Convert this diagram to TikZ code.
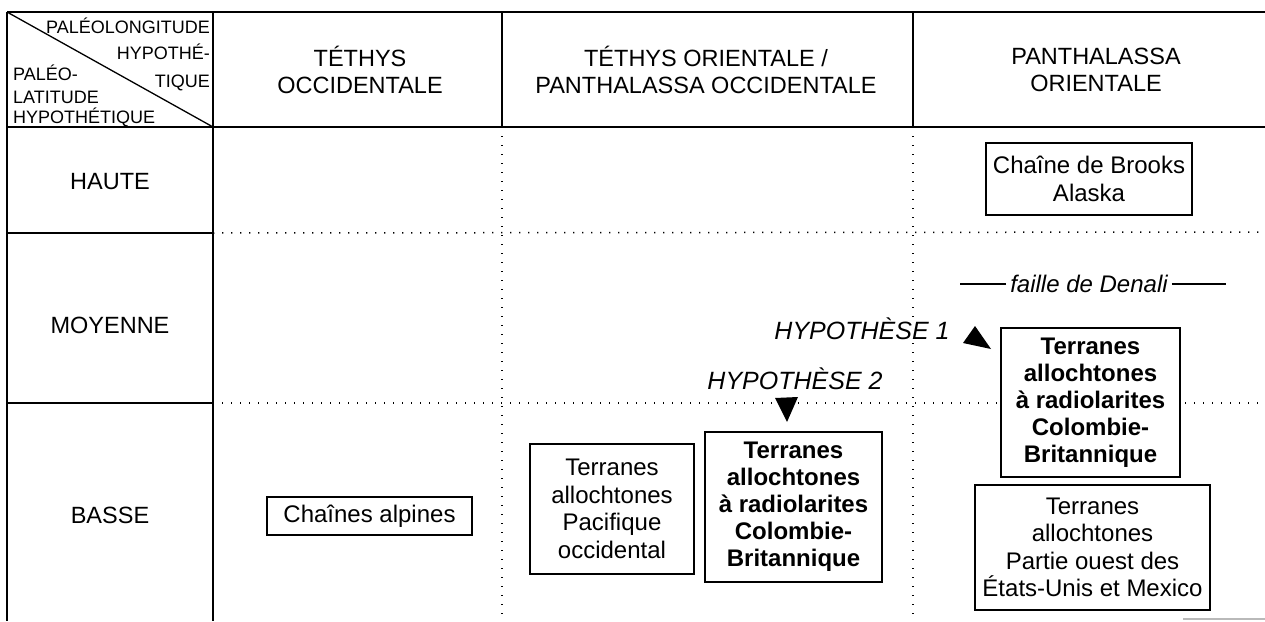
\documentclass[tikz,border=0pt]{standalone}
\usepackage{fontspec}
\setmainfont{Liberation Sans}
\begin{document}
\begin{tikzpicture}[x=1pt,y=-1pt,
  tbl/.style={line width=1.6pt},
  dotline/.style={line width=1.5pt, dash pattern=on 1.4pt off 7.6pt},
  box/.style={draw, line width=1.5pt, fill=white, align=center, inner sep=0pt, font=\fontsize{24}{27.5}\selectfont},
  boldbox/.style={box, line width=2.6pt, font=\fontsize{24}{27}\selectfont\bfseries},
  hdr/.style={align=center, inner sep=0pt, font=\fontsize{23.5}{27}\selectfont},
  rowlab/.style={inner sep=0pt, font=\fontsize{23.5}{26}\selectfont},
  corner/.style={inner sep=0pt, font=\fontsize{18}{23}\selectfont},
  hyp/.style={inner sep=1pt, fill=white, font=\fontsize{25}{28}\selectfont\itshape},
  tip/.style={fill=black}
]
\useasboundingbox (0,0) rectangle (1265,621);
% table corners
\coordinate (tl) at (7,12);
\coordinate (tr) at (1265,12);
\coordinate (hl) at (7,127);
\coordinate (hr) at (1265,127);
\coordinate (bl) at (7,621);
\coordinate (c1t) at (213,12);
\coordinate (c1h) at (213,127);
\coordinate (c1b) at (213,621);
\coordinate (c2t) at (502,12);
\coordinate (c2h) at (502,127);
\coordinate (c2b) at (502,621);
\coordinate (c3t) at (913,12);
\coordinate (c3h) at (913,127);
\coordinate (c3b) at (913,621);
\coordinate (r1l) at (7,233);
\coordinate (r1m) at (213,233);
\coordinate (r1r) at (1265,232);
\coordinate (r2l) at (7,403);
\coordinate (r2m) at (213,403);
\coordinate (r2r) at (1265,403);
\coordinate (g1) at (1183,619);
\coordinate (g2) at (1265,619);
% dotted grid
\draw[dotline] (c2h) -- (c2b);
\draw[dotline] (c3h) -- (c3b);
\draw[dotline] (r1m) -- (r1r);
\draw[dotline] (r2m) -- (r2r);
% solid grid
\draw[tbl] (tl) -- (tr);
\draw[tbl] (hl) -- (hr);
\draw[tbl] (tl) -- (bl);
\draw[tbl] (c1t) -- (c1b);
\draw[tbl] (c2t) -- (c2h);
\draw[tbl] (c3t) -- (c3h);
\draw[tbl] (r1l) -- (r1m);
\draw[tbl] (r2l) -- (r2m);
\draw[line width=1.3pt] (tl) -- (c1h);
\draw[gray!55, line width=1.2pt] (g1) -- (g2);
% corner cell
\node[corner, anchor=base east] (plong) at (210,33) {PALÉOLONGITUDE};
\node[corner, anchor=base east] (phyp) at (210,59) {HYPOTHÉ-};
\node[corner, anchor=base east] (ptiq) at (210,87) {TIQUE};
\node[corner, anchor=base west] (lpal) at (13,80) {PALÉO-};
\node[corner, anchor=base west] (llat) at (13,103) {LATITUDE};
\node[corner, anchor=base west] (lhyp) at (13,123) {HYPOTHÉTIQUE};
% headers
\node[hdr] (h1) at (360,70) {TÉTHYS\\OCCIDENTALE};
\node[hdr] (h2) at (706,70) {TÉTHYS ORIENTALE /\\PANTHALASSA OCCIDENTALE};
\node[hdr] (h3) at (1096,70) {PANTHALASSA\\ORIENTALE};
% row labels
\node[rowlab] (haute) at (110,182) {HAUTE};
\node[rowlab] (moy) at (110,325) {MOYENNE};
\node[rowlab] (basse) at (110,515) {BASSE};
% boxes
\node[box, minimum width=206pt, minimum height=72pt] (brooks) at (1089,179) {Chaîne de Brooks\\Alaska};
\node[boldbox, minimum width=179pt, minimum height=149pt] (radio1) at (1090.5,402.5) {Terranes\\allochtones\\à radiolarites\\Colombie-\\Britannique};
\node[box, minimum width=235pt, minimum height=125pt] (ouest) at (1092.5,547.5) {Terranes\\allochtones\\Partie ouest des\\États-Unis et Mexico};
\node[box, minimum width=164pt, minimum height=130pt] (pacif) at (612,509) {Terranes\\allochtones\\Pacifique\\occidental};
\node[boldbox, minimum width=177pt, minimum height=150pt] (radio2) at (793.5,507) {Terranes\\allochtones\\à radiolarites\\Colombie-\\Britannique};
\node[box, minimum width=205pt, minimum height=38pt] (alpes) at (369.5,516) {Chaînes alpines};
% Denali fault
\node[inner sep=0pt, font=\fontsize{24}{27}\selectfont\itshape] (denali) at (1089,284) {faille de Denali};
\draw[line width=1.5pt] ([xshift=-4pt]denali.west) -- ++(-46,0);
\draw[line width=1.5pt] ([xshift=4pt]denali.east) -- ++(54,0);
% hypotheses
\node[hyp] (hyp1) at (862,329) {HYPOTHÈSE 1};
\node[hyp] (hyp2) at (795,379) {HYPOTHÈSE 2};
\fill[tip] (975,326) -- (963,343) -- (991,349) -- cycle;
\fill[tip] (775,398) -- (798,397) -- (787,422) -- cycle;
\end{tikzpicture}
\end{document}
